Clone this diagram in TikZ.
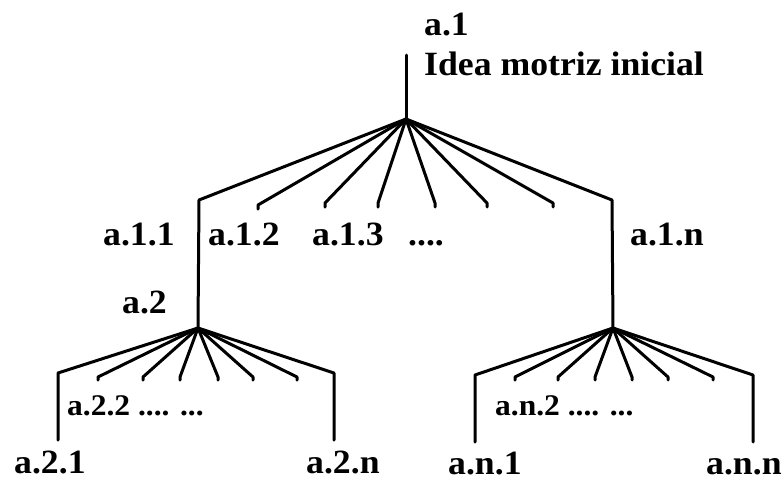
\documentclass[tikz,border=0pt]{standalone}
\usepackage{fontspec}
\usepackage{graphicx}
\setmainfont{Liberation Serif}
\newcommand{\wide}[1]{\scalebox{1.05}[1]{#1}}
\begin{document}
\begin{tikzpicture}[x=1pt,y=-1pt,
  branch/.style={line width=3pt,line cap=round,line join=round},
  lbl/.style={inner sep=0pt,anchor=base west,font=\fontsize{34}{36}\selectfont\bfseries},
  slbl/.style={inner sep=0pt,anchor=base west,font=\fontsize{30}{32}\selectfont\bfseries}]
\useasboundingbox (0,0) rectangle (784,480);
% level 1
\coordinate (top) at (406,55);
\coordinate (h1) at (406,119);
\coordinate (c1l) at (199,200);
\coordinate (c1r) at (612,200);
\foreach \n/\x/\y in {a/258/205,b/325/203,c/378/203,d/435/203,e/487/203,f/553/203}
  \coordinate (e1\n) at (\x,\y);
% level 2 left
\coordinate (h2) at (198,328);
\coordinate (c2l) at (58,373);
\coordinate (c2r) at (334,373);
\coordinate (b2l) at (58,440);
\coordinate (b2r) at (334,440);
\foreach \n/\x in {a/98,b/143,c/180,d/218,e/253,f/297}
  \coordinate (e2\n) at (\x,377);
% level 2 right
\coordinate (h3) at (613,328);
\coordinate (c3l) at (475,375);
\coordinate (c3r) at (753,375);
\coordinate (b3l) at (475,442);
\coordinate (b3r) at (753,442);
\foreach \n/\x in {a/515,b/558,c/595,d/632,e/668,f/713}
  \coordinate (e3\n) at (\x,377);

\draw[branch] (top) -- (h1);
\draw[branch] (h1) -- (c1l) -- (h2);
\draw[branch] (h1) -- (c1r) -- (h3);
\foreach \n in {a,b,c,d,e,f} \draw[branch] (h1) -- (e1\n) -- ++(0,4);
\draw[branch] (h2) -- (c2l) -- (b2l);
\draw[branch] (h2) -- (c2r) -- (b2r);
\foreach \n in {a,b,c,d,e,f} \draw[branch] (h2) -- (e2\n) -- ++(0,3);
\draw[branch] (h3) -- (c3l) -- (b3l);
\draw[branch] (h3) -- (c3r) -- (b3r);
\foreach \n in {a,b,c,d,e,f} \draw[branch] (h3) -- (e3\n) -- ++(0,3);

% labels
\node[lbl] (la1) at (424,35) {\wide{a.1}};
\node[lbl] (lidea) at (424,75) {\wide{Idea motriz inicial}};
\node[lbl] (la11) at (103,245) {\wide{a.1.1}};
\node[lbl] (la12) at (208,245) {\wide{a.1.2}};
\node[lbl] (la13) at (312,245) {\wide{a.1.3}};
\node[lbl] (ldots) at (408,245) {\wide{....}};
\node[lbl] (la1n) at (630,245) {\wide{a.1.n}};
\node[lbl] (la2) at (122,313) {\wide{a.2}};
\node[slbl] (la22) at (67,415) {\wide{a.2.2 ....\hspace{10pt}...}};
\node[lbl] (la21) at (14,473) {\wide{a.2.1}};
\node[lbl] (la2n) at (306,473) {\wide{a.2.n}};
\node[slbl] (lan2) at (495,415) {\wide{a.n.2 ....\hspace{10pt}...}};
\node[lbl] (lan1) at (448,474) {\wide{a.n.1}};
\node[lbl] (lann) at (706,474) {\wide{a.n.n}};
\end{tikzpicture}
\end{document}
